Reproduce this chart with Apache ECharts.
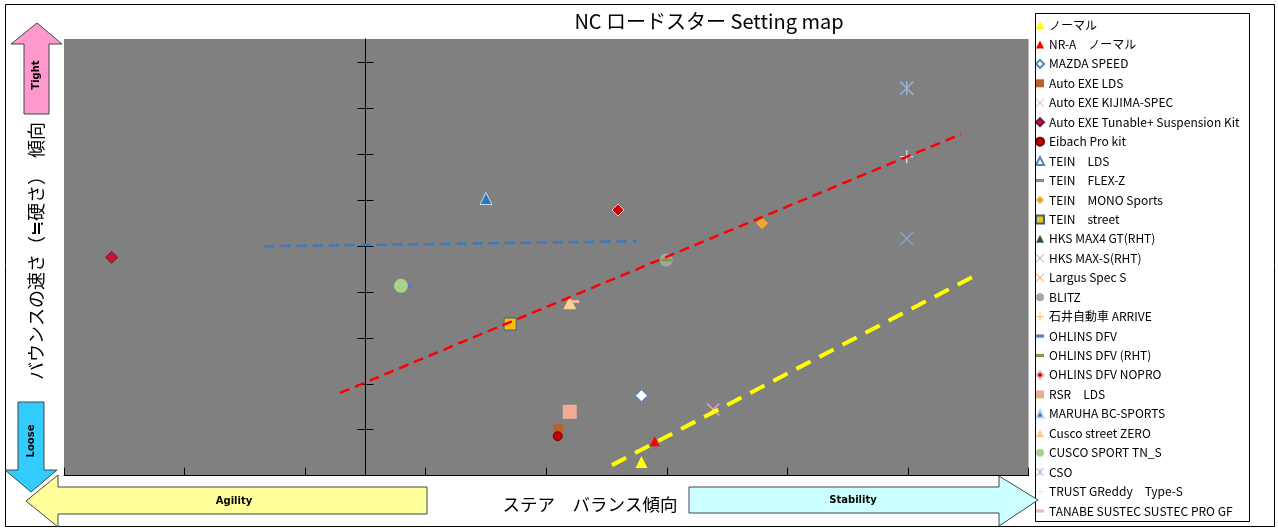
<!DOCTYPE html>
<html>
<head>
<meta charset="utf-8">
<title>NC ロードスター Setting map</title>
<script src="https://cdn.jsdelivr.net/npm/echarts@6.0.0/dist/echarts.min.js"></script>
<style>
	html, body { margin: 0; padding: 0; background: #fff; }
	#settingMap { width: 1278px; height: 531px; }
</style>
</head>
<body>
<div id="settingMap"></div>
<script>
// 凡例の並び順 = 系列の並び順
var seriesNames = [
	'ノーマル', 'NR-A　ノーマル', 'MAZDA SPEED', 'Auto EXE LDS', 'Auto EXE KIJIMA-SPEC',
	'Auto EXE Tunable+ Suspension Kit', 'Eibach Pro kit', 'TEIN　LDS', 'TEIN　FLEX-Z',
	'TEIN　MONO Sports', 'TEIN　street', 'HKS MAX4 GT(RHT)', 'HKS MAX-S(RHT)', 'Largus Spec S',
	'BLITZ', '石井自動車 ARRIVE', 'OHLINS DFV', 'OHLINS DFV (RHT)', 'OHLINS DFV NOPRO',
	'RSR　LDS', 'MARUHA BC-SPORTS', 'Cusco street ZERO', 'CUSCO SPORT TN_S', 'CSO',
	'TRUST GReddy　Type-S', 'TANABE SUSTEC SUSTEC PRO GF'
];

// ステア バランス傾向 (x)
var pointX = [
	[4.58], [4.80], [4.58], [3.20], [5.77],
	[-4.21], [3.19], [2.00], [],
	[6.58], [2.40], [], [8.98], [],
	[4.99], [], [0.71], [4.99], [4.19],
	[3.39], [2.00], [3.39], [0.59], [8.98],
	[8.98], [3.48]
];

// バウンスの速さ傾向 (y)
var pointY = [
	[0.30], [0.75], [1.74], [1.01], [1.44],
	[4.75], [0.86], [6.03], [],
	[5.49], [3.30], [], [5.16], [],
	[4.69], [], [4.13], [4.69], [5.78],
	[1.39], [6.03], [3.76], [4.13], [8.43],
	[6.94], [3.79]
];

// 近似直線 (赤・青・黄)
var trendX = [[-0.42, 9.88], [-1.67, 4.50], [4.09, 10.11]];
var trendY = [[1.80, 7.43], [4.99, 5.10], [0.23, 4.35]];

var xTicks = [-5, -3, -1, 1, 3, 5, 7, 9, 11];
var yTicks = [1, 2, 3, 4, 5, 6, 7, 8, 9];

var FONT = '"Noto Sans CJK JP", "Noto Sans", sans-serif';
var SYM_X = 'path://M0,0.7L0.7,0L5,4.3L9.3,0L10,0.7L5.7,5L10,9.3L9.3,10L5,5.7L0.7,10L0,9.3L4.3,5Z';
var SYM_PLUS = 'path://M4.5,0L5.5,0L5.5,4.5L10,4.5L10,5.5L5.5,5.5L5.5,10L4.5,10L4.5,5.5L0,5.5L0,4.5L4.5,4.5Z';
var SYM_STAR = 'path://M0,0.7L0.7,0L5,4.3L9.3,0L10,0.7L5.7,5L10,9.3L9.3,10L5,5.7L0.7,10L0,9.3L4.3,5ZM4.5,0L5.5,0L5.5,10L4.5,10Z';
var SYM_DASH = 'path://M0,0L10,0L10,4L0,4Z';

// マーカーの見た目
var markStyles = [
	{ symbol: 'triangle', size: 12, color: '#ffff00' },
	{ symbol: 'triangle', size: 10, color: '#ff0000' },
	{ symbol: 'diamond', size: 12, color: '#ffffff', border: '#4f81bd' },
	{ symbol: 'rect', size: 10, color: '#b8612a' },
	{ symbol: SYM_X, size: 13, color: '#eaa2c8' },
	{ symbol: 'diamond', size: 12, color: '#d0102c', border: '#6a1a34' },
	{ symbol: 'circle', size: 9, color: '#c00000', border: '#7a0000' },
	{ symbol: 'triangle', size: 12, color: '#ffffff', border: '#4f81bd' },
	{ symbol: SYM_DASH, size: [8, 3], color: '#9d7b91' },
	{ symbol: 'diamond', size: 12, color: '#f0a830' },
	{ symbol: 'rect', size: 12, color: '#ffc000', border: '#3f5f8f' },
	{ symbol: 'triangle', size: 11, color: '#2d5a3c' },
	{ symbol: SYM_X, size: 14, color: '#84a4d4' },
	{ symbol: SYM_X, size: 12, color: '#f79646' },
	{ symbol: 'circle', size: 13, color: '#a5a5a5' },
	{ symbol: SYM_PLUS, size: 12, color: '#f2b33d' },
	{ symbol: SYM_DASH, size: [8, 3], color: '#4f81bd' },
	{ symbol: SYM_DASH, size: [11, 3], color: '#77a03c' },
	{ symbol: 'diamond', size: 12, color: '#d40000', border: '#e6caca' },
	{ symbol: 'rect', size: 14, color: '#f2ab93' },
	{ symbol: 'triangle', size: 12, color: '#2e75b6', border: '#c6d9f1' },
	{ symbol: 'triangle', size: 13, color: '#fad08e' },
	{ symbol: 'circle', size: 14, color: '#a9d18e' },
	{ symbol: SYM_STAR, size: 14, color: '#9ab4d8' },
	{ symbol: SYM_PLUS, size: 13, color: '#d6e3f3' },
	{ symbol: SYM_DASH, size: [8, 3], color: '#f4b8a8' }
];

var trendStyles = [
	{ color: '#ff0000', width: 2.5, dash: [10, 6] },
	{ color: '#3a78bf', width: 2.5, dash: [10, 6] },
	{ color: '#ffff00', width: 4, dash: [16, 10] }
];

var settingMap = {

	buildSeries: function () {
		var list = [];
		for (var i = 0; i < seriesNames.length; i++) {
			var pts = [];
			for (var j = 0; j < pointX[i].length; j++) {
				pts.push([pointX[i][j], pointY[i][j]]);
			}
			var st = markStyles[i];
			list.push({
				name: seriesNames[i],
				type: 'scatter',
				symbol: st.symbol,
				symbolSize: st.size,
				itemStyle: {
					color: st.color,
					borderColor: st.border || st.color,
					borderWidth: st.border ? 1 : 0,
					opacity: 1
				},
				emphasis: { disabled: true },
				data: pts
			});
		}
		// 近似直線は一番上に描く
		for (var k = 0; k < trendX.length; k++) {
			list.push({
				name: 'trend' + k,
				type: 'line',
				showSymbol: false,
				silent: true,
				lineStyle: {
					color: trendStyles[k].color,
					width: trendStyles[k].width,
					type: trendStyles[k].dash
				},
				data: [[trendX[k][0], trendY[k][0]], [trendX[k][1], trendY[k][1]]]
			});
		}
		return list;
	},

	legendData: function () {
		var out = [];
		for (var i = 0; i < seriesNames.length; i++) {
			var item = { name: seriesNames[i] };
			if (markStyles[i].symbol === SYM_DASH) {
				item.icon = SYM_DASH;
			}
			out.push(item);
		}
		return out;
	},

	arrowText: function (x, y, text, rot) {
		return {
			type: 'text', x: x, y: y, rotation: rot || 0, z: 110,
			style: {
				text: text, fill: '#000', font: 'bold 10px "DejaVu Sans", sans-serif',
				align: 'center', verticalAlign: 'middle'
			}
		};
	},

	arrow: function (points, fill) {
		return {
			type: 'polygon', z: 100,
			shape: { points: points },
			style: { fill: fill, stroke: '#3d4650', lineWidth: 1 }
		};
	},

	graphics: function () {
		var g = [];
		// 外枠と凡例枠
		g.push({ type: 'rect', z: -1, shape: { x: 5.5, y: 4.5, width: 1269, height: 522 }, style: { fill: 'none', stroke: '#000', lineWidth: 1 } });
		g.push({ type: 'rect', z: 90, shape: { x: 1035.5, y: 13.5, width: 214, height: 508 }, style: { fill: 'none', stroke: '#000', lineWidth: 1 } });
		// タイトル
		g.push({
			type: 'text', x: 709, y: 21, z: 110,
			style: { text: 'NC ロードスター Setting map', fill: '#000', font: '20px ' + FONT, align: 'center', verticalAlign: 'middle' }
		});
		// 軸タイトル
		g.push({
			type: 'text', x: 36, y: 251, rotation: Math.PI / 2, z: 110,
			style: { text: 'バウンスの速さ（≒硬さ）　傾向', fill: '#000', font: '18px ' + FONT, align: 'center', verticalAlign: 'middle' }
		});
		g.push({
			type: 'text', x: 590, y: 504, z: 110,
			style: { text: 'ステア　バランス傾向', fill: '#000', font: '17.5px ' + FONT, align: 'center', verticalAlign: 'middle' }
		});
		// 矢印
		g.push(settingMap.arrow([[37, 23], [62, 44], [49, 44], [49, 114], [24, 114], [24, 44], [11, 44]], '#ff99cc'));
		g.push(settingMap.arrowText(36, 75, 'Tight', Math.PI / 2));
		g.push(settingMap.arrow([[18, 402], [44, 402], [44, 470], [57, 470], [31, 492], [5, 470], [18, 470]], '#33ccff'));
		g.push(settingMap.arrowText(31, 441, 'Loose', Math.PI / 2));
		g.push(settingMap.arrow([[26, 501], [58, 475], [58, 487], [427, 487], [427, 514], [58, 514], [58, 527]], '#ffff99'));
		g.push(settingMap.arrowText(234, 501, 'Agility'));
		g.push(settingMap.arrow([[689, 487], [999, 487], [999, 476], [1038, 500], [999, 526], [999, 513], [689, 513]], '#ccffff'));
		g.push(settingMap.arrowText(853, 500, 'Stability'));
		return g;
	},

	chartOption: {
		animation: false,
		backgroundColor: '#ffffff',
		textStyle: { fontFamily: FONT },
		grid: {
			show: true,
			left: 64,
			right: 249.5,
			top: 39,
			bottom: 55.3,
			backgroundColor: '#808080',
			borderWidth: 0
		},
		xAxis: {
			type: 'value',
			min: -5,
			max: 11,
			axisLine: { onZero: false, lineStyle: { color: '#000', width: 1 } },
			axisTick: { show: true, inside: true, length: 8, customValues: xTicks, lineStyle: { color: '#000' } },
			axisLabel: { show: false },
			splitLine: { show: false }
		},
		yAxis: [{
			type: 'value',
			min: 0,
			max: 9.5,
			position: 'left',
			axisLine: { show: true, onZero: true, onZeroAxisIndex: 0, lineStyle: { color: '#000', width: 1 } },
			axisTick: { show: true, inside: false, length: 8, customValues: yTicks, lineStyle: { color: '#000' } },
			axisLabel: { show: false },
			splitLine: { show: false }
		}, {
			type: 'value',
			min: 0,
			max: 9.5,
			position: 'left',
			axisLine: { show: true, onZero: true, onZeroAxisIndex: 0, lineStyle: { color: '#000', width: 1 } },
			axisTick: { show: true, inside: true, length: 8, customValues: yTicks, lineStyle: { color: '#000' } },
			axisLabel: { show: false },
			splitLine: { show: false }
		}],
		legend: {
			orient: 'vertical',
			left: 1035,
			top: 18.5,
			padding: 0,
			itemWidth: 8,
			itemHeight: 8,
			itemGap: 6.44,
			selectedMode: false,
			textStyle: { fontSize: 12, lineHeight: 13, color: '#000', fontFamily: FONT }
		}
	},

	initChart: function () {
		var myChart = echarts.init(document.getElementById('settingMap'));
		settingMap.chartOption.series = settingMap.buildSeries();
		settingMap.chartOption.legend.data = settingMap.legendData();
		settingMap.chartOption.graphic = { elements: settingMap.graphics() };
		myChart.setOption(settingMap.chartOption);
	}
};

settingMap.initChart();
</script>
</body>
</html>
